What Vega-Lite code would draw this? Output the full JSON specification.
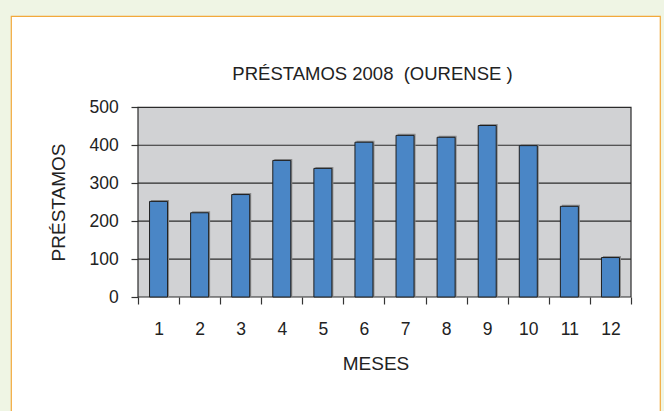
{
  "$schema": "https://vega.github.io/schema/vega-lite/v6.json",
  "width": 649,
  "height": 398,
  "autosize": {"type": "none"},
  "padding": {"left": 11, "top": 16, "right": 4, "bottom": -3},
  "background": "#eff5e4",
  "config": {
    "view": {"fill": "#ffffff", "stroke": "#f2a93b", "strokeWidth": 1.2},
    "font": "Liberation Sans"
  },
  "title": {
    "text": "PRÉSTAMOS 2008\u00a0\u00a0(OURENSE\u00a0)",
    "anchor": "middle",
    "frame": "group",
    "offset": -82,
    "dx": 37,
    "fontSize": 18.5,
    "fontWeight": "normal",
    "color": "#222222",
    "font": "Liberation Sans",
    "baseline": "alphabetic"
  },
  "datasets": {
    "prestamos": [
      {"mes": 1, "prestamos": 252},
      {"mes": 2, "prestamos": 222},
      {"mes": 3, "prestamos": 270},
      {"mes": 4, "prestamos": 360},
      {"mes": 5, "prestamos": 339},
      {"mes": 6, "prestamos": 408},
      {"mes": 7, "prestamos": 426},
      {"mes": 8, "prestamos": 421},
      {"mes": 9, "prestamos": 452},
      {"mes": 10, "prestamos": 399},
      {"mes": 11, "prestamos": 239},
      {"mes": 12, "prestamos": 104}
    ],
    "grid": [{"g": 100}, {"g": 200}, {"g": 300}, {"g": 400}],
    "one": [{"k": 1}]
  },
  "layer": [
    {
      "data": {"name": "one"},
      "mark": {"type": "rect", "fill": "#d1d2d4", "stroke": "#2b2b2b", "strokeWidth": 1.2},
      "encoding": {
        "x": {
          "datum": 0.5,
          "type": "quantitative",
          "scale": {"domain": [-2.5913, 13.2059], "nice": false, "zero": false, "padding": 0},
          "axis": {
            "values": [0.5, 1.5, 2.5, 3.5, 4.5, 5.5, 6.5, 7.5, 8.5, 9.5, 10.5, 11.5, 12.5],
            "labelExpr": "datum.value < 12 ? toString(datum.value + 0.5) : ''",
            "labelOffset": 20.54,
            "offset": -117,
            "domain": false,
            "grid": false,
            "tickSize": 7,
            "tickColor": "#333333",
            "tickWidth": 1.2,
            "labelFontSize": 17.5,
            "labelColor": "#222222",
            "labelPadding": 30.3,
            "labelBaseline": "alphabetic",
            "labelOverlap": false,
            "labelFlush": false,
            "labelBound": false,
            "title": "MESES",
            "titleFontSize": 19,
            "titleFontWeight": "normal",
            "titleColor": "#222222",
            "titleX": 364.5,
            "titleY": 72,
            "titleBaseline": "alphabetic",
            "titleAlign": "center"
          }
        },
        "x2": {"datum": 12.5},
        "y": {
          "datum": 0,
          "type": "quantitative",
          "scale": {"domain": [-308.38, 740.64], "nice": false, "zero": false, "padding": 0},
          "axis": {
            "values": [0, 100, 200, 300, 400, 500],
            "offset": -127,
            "domain": false,
            "grid": false,
            "tickSize": 7,
            "tickColor": "#333333",
            "tickWidth": 1.2,
            "labelFontSize": 17.5,
            "labelColor": "#222222",
            "labelPadding": 12.7,
            "labelOverlap": false,
            "title": "PRÉSTAMOS",
            "titleFontSize": 19,
            "titleFontWeight": "normal",
            "titleColor": "#222222",
            "titleX": -73.5,
            "titleY": 186,
            "titleAngle": -90,
            "titleBaseline": "alphabetic",
            "titleAlign": "center"
          }
        },
        "y2": {"datum": 500}
      }
    },
    {
      "data": {"name": "grid"},
      "mark": {"type": "rule", "stroke": "#2b2b2b", "strokeWidth": 1.2},
      "encoding": {
        "x": {"datum": 0.5, "type": "quantitative"},
        "x2": {"datum": 12.5},
        "y": {"field": "g", "type": "quantitative"}
      }
    },
    {
      "data": {"name": "prestamos"},
      "mark": {"type": "bar", "size": 18, "fill": "#8c8c8c", "xOffset": 1.5, "yOffset": -1.5},
      "encoding": {
        "x": {"field": "mes", "type": "quantitative"},
        "y": {"field": "prestamos", "type": "quantitative"},
        "y2": {"datum": 0}
      }
    },
    {
      "data": {"name": "prestamos"},
      "mark": {"type": "bar", "size": 18, "fill": "#4a86c6", "stroke": "#1f1f1f", "strokeWidth": 1},
      "encoding": {
        "x": {"field": "mes", "type": "quantitative"},
        "y": {"field": "prestamos", "type": "quantitative"},
        "y2": {"datum": 0}
      }
    }
  ]
}
